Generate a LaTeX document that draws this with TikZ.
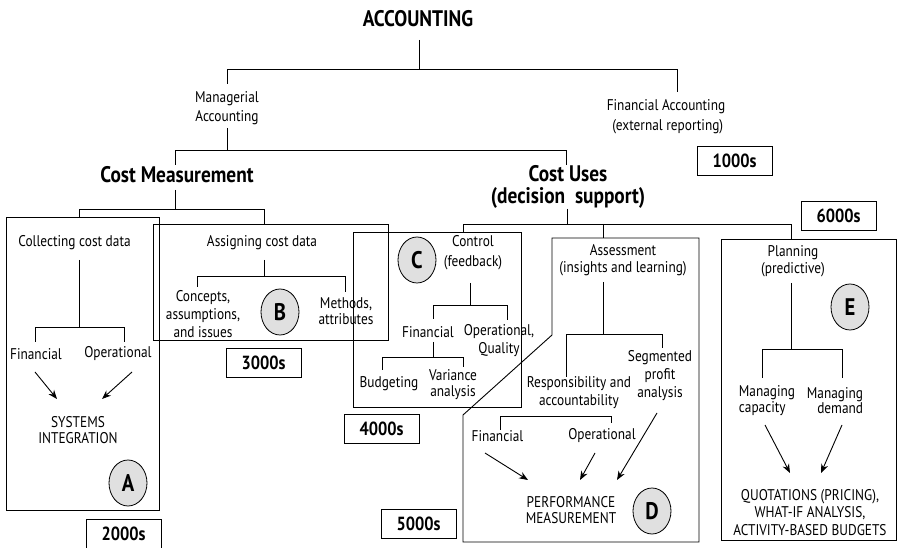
\documentclass[tikz,border=0pt]{standalone}
\usepackage{fontspec}
\setmainfont{PT Sans}[FakeStretch=0.86]
\usetikzlibrary{arrows.meta,shapes.geometric}
\begin{document}
\begin{tikzpicture}[x=1pt,y=-1pt,
  txt/.style={font=\fontsize{15.5}{19}\selectfont, align=center, inner sep=0pt},
  caps/.style={font=\fontsize{15.5}{16.5}\selectfont, align=center, inner sep=0pt},
  big/.style={font=\fontsize{22.5}{22}\selectfont\bfseries, align=center, inner sep=0pt},
  tag/.style={draw, line width=0.9pt, minimum width=75pt, minimum height=29pt, font=\fontsize{19}{20}\selectfont\bfseries, inner sep=0pt},
  letter/.style={ellipse, draw, line width=0.8pt, fill=black!12, minimum width=38pt, minimum height=46pt, font=\fontsize{24}{24}\selectfont\bfseries, inner sep=0pt},
  frame/.style={draw, line width=0.9pt},
  link/.style={draw, line width=0.9pt},
  arr/.style={-{Stealth[length=9pt,width=7pt]}, line width=0.9pt}]
\useasboundingbox (0,0) rectangle (898,548);

% ---------- frames ----------
\draw[frame] (6,217) rectangle (159,510);
\draw[frame] (153,224) rectangle (388,340);
\draw[frame] (353,232) rectangle (521,407);
\draw[frame] (552,238) -- (699,238) -- (699,542) -- (463,542) -- (463,415) -- (552,335) -- cycle;
\draw[frame] (721,239) rectangle (896.5,540);

% ---------- top texts ----------
\node[big] (acc) at (418,19) {ACCOUNTING};
\node[txt] (mgr) at (227,108) {Managerial\\Accounting};
\node[txt, font=\fontsize{15.5}{20}\selectfont] (fin) at (666,117) {Financial Accounting\\\ (external reporting)};
\node[tag] (t1000) at (734.5,160.5) {1000s};
\node[big] (cm) at (177,175) {Cost Measurement};
\node[big] (cu) at (568,187) {Cost Uses\\(decision\ \ support)};
\node[tag] (t6000) at (838.5,215.5) {6000s};

% ---------- A ----------
\node[txt] (coll) at (74.5,243) {Collecting cost data};
\node[txt] (aFin) at (36,354) {Financial};
\node[txt] (aOp) at (118,354) {Operational};
\node[caps] (sys) at (78,430) {SYSTEMS\\INTEGRATION};
\node[letter] (lA) at (128,483) {A};
\node[tag] (t2000) at (123.5,533.5) {2000s};

% ---------- B ----------
\node[txt] (assg) at (262,243) {Assigning cost data};
\node[txt, font=\fontsize{15.5}{18}\selectfont] (conc) at (203,314) {Concepts,\\assumptions,\\and issues};
\node[letter] (lB) at (280,312) {B};
\node[txt, font=\fontsize{15.5}{16}\selectfont] (meth) at (346,311) {Methods,\\attributes};
\node[tag] (t3000) at (263.5,363) {3000s};

% ---------- C ----------
\node[letter] (lC) at (417,260) {C};
\node[txt, font=\fontsize{15.5}{20}\selectfont] (ctrl) at (473,253) {Control\\(feedback)};
\node[txt] (cFin) at (428,332) {Financial};
\node[txt, font=\fontsize{15.5}{18}\selectfont] (cOp) at (499,341) {Operational,\\Quality};
\node[txt] (budg) at (389,384) {Budgeting};
\node[txt, font=\fontsize{15.5}{16}\selectfont] (var) at (453,385) {Variance\\analysis};
\node[tag] (t4000) at (381.5,428.5) {4000s};

% ---------- D ----------
\node[txt, font=\fontsize{15.5}{17}\selectfont] (asse) at (623,260.5) {Assessment\\(insights and learning)};
\node[txt, font=\fontsize{15.5}{18}\selectfont] (resp) at (579,393) {Responsibility and\\accountability};
\node[txt, font=\fontsize{15.5}{18}\selectfont] (segm) at (660,376) {Segmented\\profit\\analysis};
\node[txt] (dFin) at (497.5,436) {Financial};
\node[txt] (dOp) at (602,436) {Operational};
\node[caps] (perf) at (571,510) {PERFORMANCE\\MEASUREMENT};
\node[letter] (lD) at (652,511) {D};
\node[tag] (t5000) at (418.5,524) {5000s};

% ---------- E ----------
\node[txt, font=\fontsize{15.5}{17}\selectfont] (plan) at (793,261.5) {Planning\\(predictive)};
\node[letter] (lE) at (850,307) {E};
\node[txt, align=left, font=\fontsize{15.5}{15.5}\selectfont] (mcap) at (767,400.5) {Managing\\capacity};
\node[txt, align=right, font=\fontsize{15.5}{15.5}\selectfont] (mdem) at (835,400.5) {Managing\\demand};
\node[caps, font=\fontsize{15.5}{17.5}\selectfont] (quot) at (810,512.5) {QUOTATIONS (PRICING),\\WHAT-IF ANALYSIS,\\ACTIVITY-BASED BUDGETS};

% ---------- connector end points ----------
\coordinate (acc-s) at (419,40);   \coordinate (acc-j) at (419,69);
\coordinate (mgr-n) at (227,84);   \coordinate (fin-n) at (677,92);
\coordinate (mgr-s) at (227,128);  \coordinate (mgr-j) at (227,150);
\coordinate (cm-n) at (175,165);   \coordinate (cu-n) at (566,165);
\coordinate (cm-s) at (175,190);   \coordinate (cm-j) at (175,209);
\coordinate (coll-n) at (79,217);  \coordinate (assg-n) at (264,224);
\coordinate (coll-s) at (79,260);  \coordinate (coll-j) at (79,327);
\coordinate (aFin-n) at (35,342);  \coordinate (aOp-n) at (124,342);
\coordinate (assg-s) at (264,260); \coordinate (assg-j) at (264,276);
\coordinate (conc-n) at (197,287); \coordinate (meth-n) at (345,292);
\coordinate (cu-s) at (567,209);   \coordinate (cu-j) at (567,224);
\coordinate (ctrl-n) at (463,232); \coordinate (asse-n) at (603,238); \coordinate (plan-n) at (791,239);
\coordinate (ctrl-s) at (470,283); \coordinate (ctrl-j) at (470,305);
\coordinate (cFin-n) at (433,319); \coordinate (cOp-n) at (507,320);
\coordinate (cFin-s) at (433,342); \coordinate (cFin-j) at (433,357);
\coordinate (budg-n) at (382,370); \coordinate (var-n) at (463,367);
\coordinate (asse-s) at (603,282); \coordinate (asse-j) at (603,334);
\coordinate (resp-n) at (566,377); \coordinate (segm-n) at (662,348);
\coordinate (dFin-n) at (500,430); \coordinate (dOp-n) at (611,423); \coordinate (dOp-j) at (611,416);
\coordinate (plan-s) at (791,283); \coordinate (plan-j) at (791,349);
\coordinate (mcap-n) at (762,378); \coordinate (mdem-n) at (842,378);

% ---------- tree connectors ----------
\draw[link] (acc-s) -- (acc-j);
\draw[link] (mgr-n) |- (fin-n |- acc-j) -- (fin-n);
\draw[link] (mgr-s) -- (mgr-j);
\draw[link] (cm-n) |- (cu-n |- mgr-j) -- (cu-n);
\draw[link] (cm-s) -- (cm-j);
\draw[link] (coll-n) |- (assg-n |- cm-j) -- (assg-n);
\draw[link] (coll-s) -- (coll-j);
\draw[link] (aFin-n) |- (aOp-n |- coll-j) -- (aOp-n);
\draw[link] (assg-s) -- (assg-j);
\draw[link] (conc-n) |- (meth-n |- assg-j) -- (meth-n);
\draw[link] (cu-s) -- (cu-j);
\draw[link] (ctrl-n) |- (plan-n |- cu-j) -- (plan-n);
\draw[link] (asse-n |- cu-j) -- (asse-n);
\draw[link] (ctrl-s) -- (ctrl-j);
\draw[link] (cFin-n) |- (cOp-n |- ctrl-j) -- (cOp-n);
\draw[link] (cFin-s) -- (cFin-j);
\draw[link] (budg-n) |- (var-n |- cFin-j) -- (var-n);
\draw[link] (asse-s) -- (asse-j);
\draw[link] (resp-n) |- (segm-n |- asse-j) -- (segm-n);
\draw[link] (dFin-n) |- (dOp-j) -- (dOp-n);
\draw[link] (plan-s) -- (plan-j);
\draw[link] (mcap-n) |- (mdem-n |- plan-j) -- (mdem-n);

% ---------- arrows ----------
\coordinate (aA1) at (35,372);  \coordinate (aA1e) at (57,399);
\coordinate (aA2) at (132,372); \coordinate (aA2e) at (102,399);
\draw[arr] (aA1) -- (aA1e);
\draw[arr] (aA2) -- (aA2e);
\coordinate (aD1) at (485,453); \coordinate (aD1e) at (528,480);
\coordinate (aD2) at (595,453); \coordinate (aD2e) at (580,480);
\coordinate (aD3) at (657,413); \coordinate (aD3e) at (617,480);
\draw[arr] (aD1) -- (aD1e);
\draw[arr] (aD2) -- (aD2e);
\draw[arr] (aD3) -- (aD3e);
\coordinate (aE1) at (765,425); \coordinate (aE1e) at (790,473);
\coordinate (aE2) at (842,425); \coordinate (aE2e) at (821,473);
\draw[arr] (aE1) -- (aE1e);
\draw[arr] (aE2) -- (aE2e);
\end{tikzpicture}
\end{document}
